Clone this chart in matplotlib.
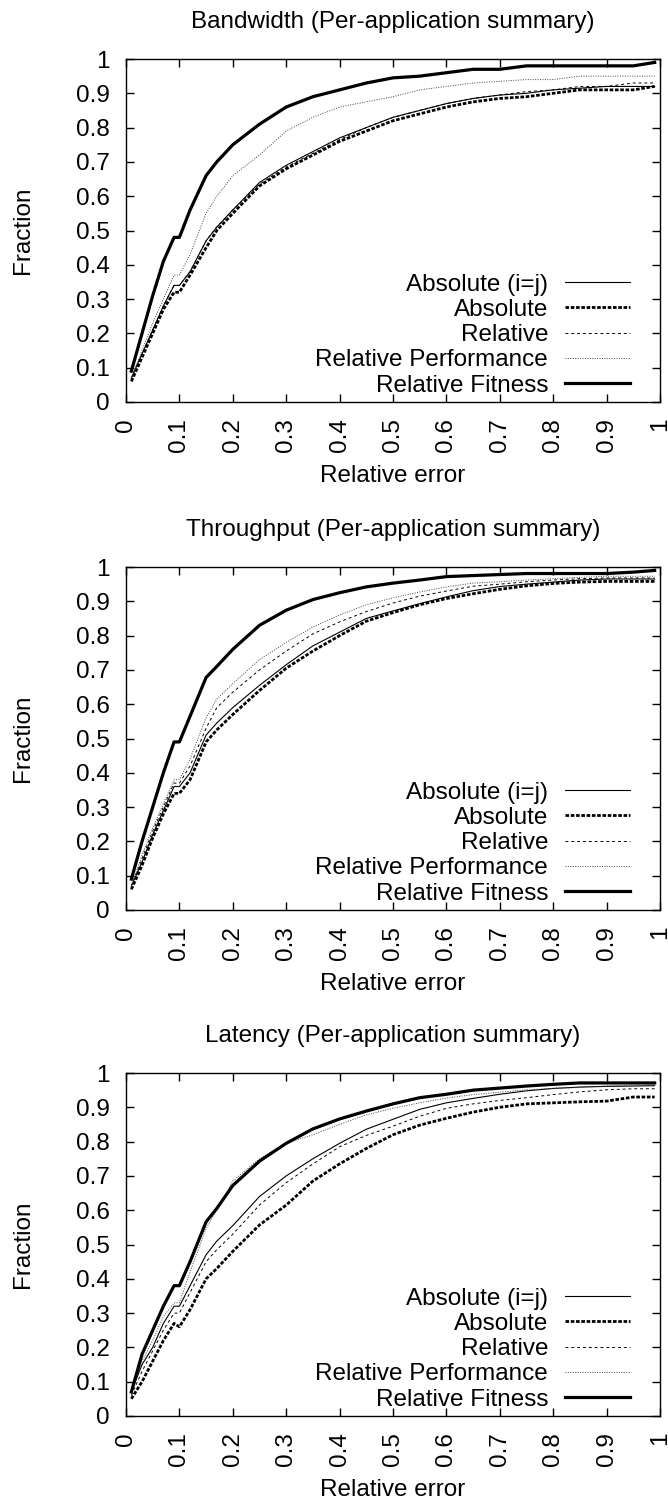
import matplotlib
matplotlib.use("Agg")
import matplotlib.pyplot as plt

plt.rcParams["font.family"] = ["Liberation Sans", "DejaVu Sans"]

x_err = [0.01, 0.03, 0.05, 0.07, 0.09, 0.10, 0.12, 0.15, 0.17, 0.20,
         0.25, 0.30, 0.35, 0.40, 0.45, 0.50, 0.55, 0.60, 0.65, 0.70,
         0.75, 0.80, 0.85, 0.90, 0.95, 0.99]

series_names = ["Absolute (i=j)", "Absolute", "Relative",
                "Relative Performance", "Relative Fitness"]

# Bandwidth
bw_abs_ij = [0.07, 0.14, 0.21, 0.28, 0.34, 0.34, 0.38, 0.47, 0.51, 0.56,
             0.64, 0.69, 0.73, 0.77, 0.80, 0.83, 0.85, 0.87, 0.885, 0.895,
             0.90, 0.91, 0.915, 0.92, 0.92, 0.92]
bw_abs = [0.06, 0.13, 0.20, 0.27, 0.32, 0.32, 0.37, 0.45, 0.50, 0.55,
          0.63, 0.68, 0.72, 0.76, 0.79, 0.82, 0.84, 0.86, 0.875, 0.885,
          0.89, 0.90, 0.91, 0.91, 0.91, 0.92]
bw_rel = [0.07, 0.14, 0.21, 0.28, 0.34, 0.34, 0.38, 0.47, 0.51, 0.56,
          0.635, 0.685, 0.725, 0.765, 0.80, 0.83, 0.85, 0.87, 0.885, 0.895,
          0.905, 0.91, 0.92, 0.92, 0.93, 0.93]
bw_rel_perf = [0.07, 0.15, 0.23, 0.30, 0.37, 0.37, 0.43, 0.55, 0.60, 0.66,
               0.72, 0.79, 0.83, 0.86, 0.875, 0.89, 0.91, 0.92, 0.93, 0.935,
               0.94, 0.94, 0.95, 0.95, 0.95, 0.95]
bw_rel_fit = [0.09, 0.20, 0.31, 0.41, 0.48, 0.48, 0.56, 0.66, 0.70, 0.75,
              0.81, 0.86, 0.89, 0.91, 0.93, 0.945, 0.95, 0.96, 0.97, 0.97,
              0.98, 0.98, 0.98, 0.98, 0.98, 0.99]

# Throughput
tp_abs_ij = [0.07, 0.14, 0.22, 0.29, 0.36, 0.36, 0.40, 0.51, 0.545, 0.59,
             0.655, 0.715, 0.77, 0.81, 0.85, 0.872, 0.893, 0.913, 0.931, 0.943,
             0.95, 0.956, 0.962, 0.965, 0.965, 0.965]
tp_abs = [0.06, 0.13, 0.21, 0.28, 0.34, 0.34, 0.38, 0.49, 0.525, 0.57,
          0.64, 0.705, 0.755, 0.80, 0.842, 0.867, 0.89, 0.908, 0.922, 0.935,
          0.945, 0.952, 0.956, 0.958, 0.958, 0.958]
tp_rel = [0.07, 0.15, 0.23, 0.30, 0.37, 0.37, 0.42, 0.53, 0.59, 0.635,
          0.70, 0.755, 0.805, 0.84, 0.87, 0.895, 0.915, 0.93, 0.944, 0.95,
          0.957, 0.962, 0.966, 0.968, 0.968, 0.968]
tp_rel_perf = [0.07, 0.16, 0.24, 0.31, 0.38, 0.38, 0.44, 0.56, 0.615, 0.66,
               0.73, 0.78, 0.825, 0.86, 0.89, 0.91, 0.927, 0.942, 0.953, 0.957,
               0.962, 0.966, 0.97, 0.973, 0.973, 0.973]
tp_rel_fit = [0.09, 0.20, 0.30, 0.40, 0.49, 0.49, 0.565, 0.678, 0.71, 0.76,
              0.83, 0.874, 0.905, 0.925, 0.942, 0.953, 0.962, 0.972, 0.975, 0.978,
              0.981, 0.981, 0.981, 0.981, 0.985, 0.99]

# Latency
lat_abs_ij = [0.07, 0.15, 0.20, 0.27, 0.32, 0.32, 0.38, 0.47, 0.51, 0.555,
              0.64, 0.70, 0.75, 0.795, 0.836, 0.865, 0.894, 0.913, 0.926, 0.938,
              0.948, 0.955, 0.959, 0.961, 0.962, 0.963]
lat_abs = [0.05, 0.10, 0.16, 0.22, 0.27, 0.26, 0.31, 0.40, 0.43, 0.48,
           0.557, 0.615, 0.685, 0.735, 0.78, 0.82, 0.848, 0.868, 0.886, 0.90,
           0.91, 0.913, 0.916, 0.918, 0.93, 0.93]
lat_rel = [0.06, 0.13, 0.19, 0.25, 0.30, 0.30, 0.36, 0.45, 0.485, 0.53,
           0.615, 0.68, 0.735, 0.785, 0.818, 0.845, 0.874, 0.897, 0.91, 0.92,
           0.928, 0.937, 0.945, 0.951, 0.954, 0.954]
lat_rel_perf = [0.07, 0.16, 0.22, 0.29, 0.33, 0.33, 0.42, 0.547, 0.60, 0.685,
                0.75, 0.795, 0.82, 0.85, 0.878, 0.897, 0.913, 0.927, 0.937, 0.944,
                0.951, 0.955, 0.958, 0.962, 0.965, 0.965]
lat_rel_fit = [0.07, 0.18, 0.25, 0.32, 0.38, 0.38, 0.45, 0.566, 0.605, 0.672,
               0.743, 0.795, 0.837, 0.866, 0.889, 0.91, 0.928, 0.938, 0.95, 0.956,
               0.962, 0.967, 0.971, 0.971, 0.971, 0.971]

titles = ["Bandwidth (Per-application summary)",
          "Throughput (Per-application summary)",
          "Latency (Per-application summary)"]
panels = [
    [bw_abs_ij, bw_abs, bw_rel, bw_rel_perf, bw_rel_fit],
    [tp_abs_ij, tp_abs, tp_rel, tp_rel_perf, tp_rel_fit],
    [lat_abs_ij, lat_abs, lat_rel, lat_rel_perf, lat_rel_fit],
]

ticks = [0, 0.1, 0.2, 0.3, 0.4, 0.5, 0.6, 0.7, 0.8, 0.9, 1]
tick_labels = ["0", "0.1", "0.2", "0.3", "0.4", "0.5", "0.6", "0.7", "0.8", "0.9", "1"]

styles = [
    dict(color="black", lw=0.8, linestyle="-"),
    dict(color="black", lw=2.0, linestyle=(0, (1.3, 0.6))),
    dict(color="black", lw=0.7, linestyle=(0, (3, 3))),
    dict(color="#444444", lw=0.7, linestyle=(0, (1, 1.5))),
    dict(color="black", lw=2.3, linestyle="-"),
]

FS = 17.5
fig = plt.figure(figsize=(6.68, 15), dpi=100)

# axes boxes in pixels: left 126, right 660; tops 59 / 567 / 1073, height 343
W, H = 668.0, 1500.0
AW, AH = 534.0, 343.0
tops = [59, 567, 1073]
for top, title, curves in zip(tops, titles, panels):
    ax = fig.add_axes([126 / W, 1 - (top + AH) / H, AW / W, AH / H])
    for name, ys, st in zip(series_names, curves, styles):
        ax.plot(x_err, ys, label=name, **st)

    ax.set_xlim(0, 1)
    ax.set_ylim(0, 1)
    ax.set_xticks(ticks)
    ax.set_xticklabels(tick_labels, rotation=90, fontsize=FS)
    ax.set_yticks(ticks)
    ax.set_yticklabels(tick_labels, fontsize=FS)
    ax.tick_params(direction="in", length=6, width=1, top=True, right=True)
    ax.tick_params(axis="x", pad=11.5)
    ax.tick_params(axis="y", pad=11.5)
    for sp in ax.spines.values():
        sp.set_linewidth(1.0)

    ax.set_title(title, fontsize=FS, y=1 + 37 / AH, pad=0, va="center")
    ax.set_xlabel("Relative error", fontsize=FS)
    ax.xaxis.set_label_coords(0.5, -74 / AH)
    ax.xaxis.label.set_va("center")
    ax.set_ylabel("Fraction", fontsize=FS)
    ax.yaxis.set_label_coords(-103 / AW, 0.5)
    ax.yaxis.label.set_va("center")

    ax.legend(loc="lower right", bbox_to_anchor=(504 / AW, 0.016),
              frameon=False, markerfirst=False, fontsize=FS,
              handlelength=2.67, handletextpad=0.7, labelspacing=0.13,
              borderpad=0, borderaxespad=0)

fig.savefig("out.png", dpi=100)
